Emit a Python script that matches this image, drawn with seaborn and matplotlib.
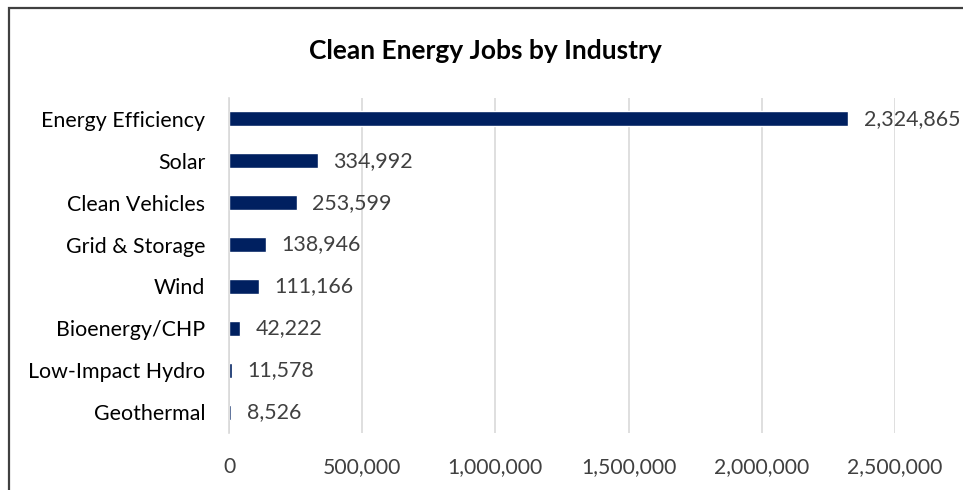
import matplotlib
matplotlib.use("Agg")
import matplotlib.pyplot as plt
import seaborn as sns
import pandas as pd
from matplotlib.patches import Rectangle
from matplotlib.ticker import FuncFormatter

industries = ["Energy Efficiency", "Solar", "Clean Vehicles", "Grid & Storage",
              "Wind", "Bioenergy/CHP", "Low-Impact Hydro", "Geothermal"]
jobs = [2324865, 334992, 253599, 138946, 111166, 42222, 11578, 8526]
x_ticks = [0, 500000, 1000000, 1500000, 2000000, 2500000]

df = pd.DataFrame({"industry": industries, "jobs": jobs})

sns.set_style("white")
plt.rcParams['font.family'] = ['Lato', 'DejaVu Sans']

fig = plt.figure(figsize=(9.63, 4.9), dpi=100)
ax = fig.add_axes([229 / 963, 1 - 433 / 490, (895 - 229) / 963, (433 - 98) / 490])

sns.barplot(data=df, x="jobs", y="industry", color="#002060", width=0.36,
            saturation=1, ax=ax)

ax.set_xlim(0, 2500000)
ax.set_xticks(x_ticks)
ax.xaxis.set_major_formatter(FuncFormatter(lambda v, p: f"{int(v):,}"))
ax.grid(axis="x", color="#d9d9d9", linewidth=1.2)
ax.set_axisbelow(True)
for s in ["top", "right", "bottom"]:
    ax.spines[s].set_visible(False)
ax.spines["left"].set_color("#d9d9d9")
ax.spines["left"].set_linewidth(1.2)
ax.tick_params(axis="x", length=0, pad=17, labelsize=15.2, labelcolor="#404040")
ax.tick_params(axis="y", length=0, pad=17, labelsize=15.4, labelcolor="#000000")
ax.set_xlabel("")
ax.set_ylabel("")

ax.bar_label(ax.containers[0], labels=[f"{v:,}" for v in jobs], padding=11,
             fontsize=15.4, color="#404040")

fig.text(485 / 963, 1 - 51 / 490, "Clean Energy Jobs by Industry", ha="center",
         va="center", fontsize=19, fontweight="bold", color="#000000")

fig.patches.append(Rectangle((9 / 963, -0.1), 1.2, 1.1 - 8 / 490,
                             transform=fig.transFigure, fill=False,
                             edgecolor="#404040", linewidth=1.6, figure=fig))

fig.savefig("out.png", dpi=100, facecolor="white")
